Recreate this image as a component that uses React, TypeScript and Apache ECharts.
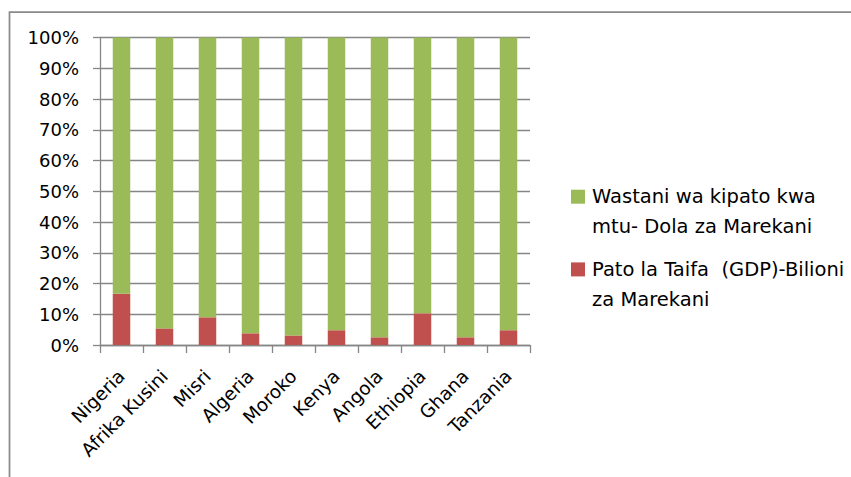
import React, { useEffect, useRef } from "react";
import * as echarts from "echarts";

const categories = [
  "Nigeria",
  "Afrika Kusini",
  "Misri",
  "Algeria",
  "Moroko",
  "Kenya",
  "Angola",
  "Ethiopia",
  "Ghana",
  "Tanzania",
];

const incomeName = "Wastani wa kipato kwa mtu- Dola za Marekani";
const gdpName = "Pato la Taifa  (GDP)-Bilioni za Marekani";

// share (%) of each column
const gdpShare = [16.7, 5.4, 9.0, 3.8, 3.1, 4.8, 2.5, 10.3, 2.5, 4.8];
const incomeShare = [83.3, 94.6, 91.0, 96.2, 96.9, 95.2, 97.5, 89.7, 97.5, 95.2];

const yTicks = [0, 10, 20, 30, 40, 50, 60, 70, 80, 90, 100];

// leading empty line keeps the first text line level with the legend swatch
const legendWrapped: Record<string, string> = {
  [incomeName]: "\nWastani wa kipato kwa\nmtu- Dola za Marekani",
  [gdpName]: "\nPato la Taifa  (GDP)-Bilioni\nza Marekani",
};

const FONT = "DejaVu Sans";
const GRAY = "#868686";

export default function App() {
  const ref = useRef<HTMLDivElement>(null);

  useEffect(() => {
    if (!ref.current) return;
    const chart = echarts.init(ref.current, null, { renderer: "svg" });
    chart.setOption({
      animation: false,
      backgroundColor: "#ffffff",
      textStyle: { fontFamily: FONT },
      graphic: [
        {
          type: "rect",
          shape: { x: 9.5, y: 12, width: 900, height: 500 },
          style: { fill: "none", stroke: "#8a8a8a", lineWidth: 1.75 },
          silent: true,
        },
      ],
      grid: { left: 100, right: 321, top: 37.5, bottom: 132, containLabel: false },
      legend: {
        orient: "vertical",
        left: 571,
        top: 151.7,
        padding: 0,
        itemGap: -17.3,
        itemWidth: 14,
        itemHeight: 14,
        icon: "rect",
        data: [incomeName, gdpName],
        formatter: (name: string) => legendWrapped[name] ?? name,
        textStyle: {
          fontFamily: FONT,
          fontSize: 19.5,
          color: "#000000",
          lineHeight: 30,
          padding: [0, 0, 0, 2],
        },
      },
      xAxis: {
        type: "category",
        data: categories,
        boundaryGap: true,
        axisLine: { show: true, lineStyle: { color: GRAY, width: 1.3 } },
        axisTick: { show: true, alignWithLabel: false, length: 8, lineStyle: { color: GRAY, width: 1.3 } },
        axisLabel: {
          interval: 0,
          rotate: 45,
          fontFamily: FONT,
          fontSize: 18.5,
          color: "#000000",
          margin: 28,
        },
      },
      yAxis: {
        type: "value",
        min: 0,
        max: 100,
        interval: 10,
        axisLine: { show: true, lineStyle: { color: GRAY, width: 1.3 } },
        axisTick: { show: true, length: 7, lineStyle: { color: GRAY, width: 1.3 } },
        splitLine: { show: true, lineStyle: { color: GRAY, width: 1.3 } },
        axisLabel: {
          fontFamily: FONT,
          fontSize: 18,
          color: "#000000",
          margin: 21,
          formatter: (v: number) => (yTicks.includes(v) ? `${v}%` : ""),
        },
      },
      series: [
        {
          name: gdpName,
          type: "bar",
          stack: "total",
          barWidth: 17.5,
          data: gdpShare,
          itemStyle: { color: "#C0504D" },
        },
        {
          name: incomeName,
          type: "bar",
          stack: "total",
          barWidth: 17.5,
          data: incomeShare,
          itemStyle: { color: "#9BBB59" },
        },
      ],
    });
    return () => chart.dispose();
  }, []);

  return (
    <div
      ref={ref}
      style={{ position: "fixed", left: 0, top: 0, width: 851, height: 477 }}
    />
  );
}
